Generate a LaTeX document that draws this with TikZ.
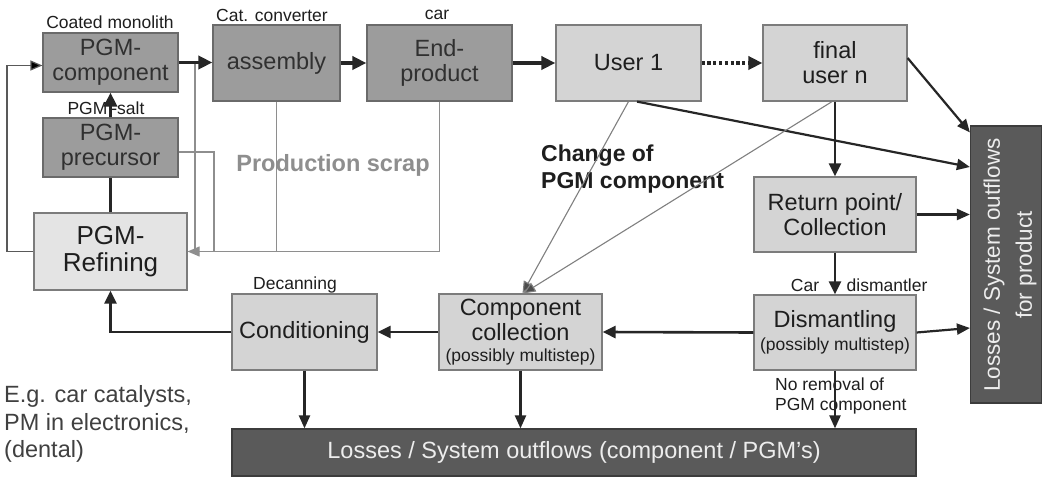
\documentclass[tikz,border=0pt]{standalone}
\usepackage{fontspec}
\setmainfont{Liberation Sans}
\usetikzlibrary{arrows.meta}
\definecolor{dkbox}{HTML}{9C9C9C}
\definecolor{dkline}{HTML}{6A6A6A}
\definecolor{ltbox}{HTML}{D4D4D4}
\definecolor{ltbox2}{HTML}{E4E4E4}
\definecolor{ltline}{HTML}{7C7C7C}
\definecolor{lossfill}{HTML}{5A5A5A}
\definecolor{lossline}{HTML}{3C3C3C}
\definecolor{scrapcol}{HTML}{8E8E8E}
\definecolor{txtdk}{HTML}{303030}
\definecolor{txtlt}{HTML}{1E1E1E}
\newcommand\mainfs{\fontsize{23.5}{25}\selectfont}
\newcommand\bigfs{\fontsize{26}{27}\selectfont}
\newcommand\smallfs{\fontsize{17.5}{20}\selectfont}
\tikzset{
  box/.style={draw, line width=1.2pt, inner sep=0pt, align=center, font=\mainfs},
  darkbox/.style={box, draw=dkline, fill=dkbox, text=txtdk},
  lightbox/.style={box, draw=ltline, fill=ltbox, text=txtlt},
  lossbox/.style={box, draw=lossline, fill=lossfill, text=white!93!black},
  smalllbl/.style={inner sep=0pt, font=\smallfs, text=txtlt},
  thk/.style={line width=3.6pt, draw=black!85, -{Triangle[length=14pt,width=13pt]}},
  med/.style={line width=2.6pt, draw=black!85, -{Triangle[length=13pt,width=12pt]}},
  thin/.style={line width=2.2pt, draw=black!85, -{Triangle[length=13pt,width=11pt]}},
  scrap/.style={line width=1.1pt, draw=scrapcol},
  chg/.style={line width=1.1pt, draw=scrapcol!90!black},
  loopline/.style={line width=1.2pt, draw=black!65, -{Triangle[length=12pt,width=10pt,fill=black]}},
}
\begin{document}
\begin{tikzpicture}[x=1pt,y=-1pt]
\useasboundingbox (0,0) rectangle (1042,478);
\fill[white] (0,0) rectangle (1042,478);

% boxes
\node[darkbox, minimum width=135pt, minimum height=59pt] (comp) at (110.5,62.5) {PGM-\\component};
\node[darkbox, minimum width=127pt, minimum height=76pt] (asm) at (276.5,63) {assembly};
\node[darkbox, minimum width=145pt, minimum height=76pt] (endp) at (439.5,63) {End-\\product};
\node[lightbox, minimum width=145pt, minimum height=76pt] (user1) at (628.5,63) {User 1};
\node[lightbox, minimum width=144pt, minimum height=76pt] (finaln) at (835,63) {final\\user n};
\node[darkbox, minimum width=135pt, minimum height=59pt] (prec) at (110.5,147.5) {PGM-\\precursor};
\node[lightbox, fill=ltbox2, font=\bigfs, minimum width=153pt, minimum height=77pt] (refin) at (110.5,251.5) {PGM-\\Refining};
\node[lightbox, minimum width=162pt, minimum height=75pt] (ret) at (835,214.5) {Return point/\\Collection};
\node[lightbox, minimum width=162pt, minimum height=75pt] (dism) at (835,332.5) {Dismantling\\[-2pt]{\smallfs (possibly multistep)}};
\node[lightbox, minimum width=163pt, minimum height=76pt] (ccoll) at (520.5,332) {Component\\collection\\[-4pt]{\smallfs (possibly multistep)}};
\node[lightbox, minimum width=145pt, minimum height=76pt] (cond) at (304.5,332) {Conditioning};
\node[lossbox, minimum width=684pt, minimum height=47pt] (lossb) at (574,452.5) {Losses / System outflows (component / PGM's)};
\node[lossbox, minimum width=71pt, minimum height=277pt] (lossr) at (1006,264.5) {};
\node[inner sep=0pt, rotate=90, align=center, font=\fontsize{22.5}{32}\selectfont, text=white!93!black] (lossrtxt) at (1010,265) {Losses / System outflows\\for product};

% small labels
\node[smalllbl] (lcoat) at (110,22) {Coated monolith};
\node[smalllbl] (lcat) at (272,15) {Cat. converter};
\node[smalllbl] (lcar) at (437,15) {car};
\node[smalllbl] (lsalt) at (106,108) {PGM\hspace{4pt}-salt};
\node[smalllbl] (ldec) at (295,285) {Decanning};
\node[smalllbl] (lcar2) at (805,285) {Car};
\node[smalllbl] (ldism) at (887,285) {dismantler};
\node[smalllbl, anchor=west, align=left, font=\fontsize{17.5}{19.5}\selectfont] (lnorem) at (775,396) {No removal of\\PGM component};
\node[inner sep=0pt, font=\bfseries\fontsize{23.5}{25}\selectfont, text=scrapcol] (lscrap) at (333,165) {Production scrap};
\node[inner sep=0pt, anchor=west, align=left, font=\bfseries\fontsize{23}{27}\selectfont, text=txtlt] (lchg) at (541,169) {Change of\\PGM component};
\node[inner sep=0pt, anchor=west, align=left, font=\fontsize{23.5}{27.5}\selectfont, text=black!75] (leg) at (4,424) {E.g. car catalysts,\\PM in electronics,\\(dental)};

% production scrap lines
\coordinate (s1top) at (195,63);
\coordinate (s1bot) at (195,251.5);
\coordinate (s2bot) at (214,251.5);
\draw[scrap] (s1top) -- (s1bot);
\draw[scrap] ([yshift=-4.5pt]prec.east) -| (s2bot);
\draw[scrap] (asm.south) -- (asm.south |- s1bot);
\draw[scrap, -{Triangle[length=12pt,width=10pt]}] (endp.south) |- (refin.east);

% left loop
\coordinate (lp) at (7,251.5);
\draw[loopline] (refin.west) -- (lp) |- ([yshift=-3pt]comp.west);

% main chain
\draw[thk] (comp.east) -- (asm.west |- comp.east);
\draw[thk] (asm) -- (endp);
\draw[thk] (endp) -- (user1);
\draw[thk, dash pattern=on 3.2pt off 2.6pt] (user1) -- (finaln);
\draw[line width=3.6pt, draw=black!85] (refin.north) -- (prec.south);
\draw[thk] (prec.north) -- (comp.south);

% return chain
\draw[med] (finaln.south) -- (ret.north);
\draw[med] (ret.south) -- (dism.north);
\draw[med] (dism.west) -- (ccoll.east);
\draw[med] (ccoll.west) -- (cond.east);
\draw[med] (cond.west) -| (refin.south);

% to bottom losses
\draw[thin] (cond.south) -- (cond.south |- lossb.north);
\draw[thin] (ccoll.south) -- (ccoll.south |- lossb.north);
\draw[thin] (dism.south) -- (dism.south |- lossb.north);

% to right losses
\draw[thin] (ret.east) -- (ret.east -| lossr.west);
\draw[thin] (dism.east) -- ([yshift=4.5pt]dism.east -| lossr.west);
\draw[thin] ([yshift=5pt]finaln.east) -- ([yshift=-7pt]lossr.north west);
\draw[thin] ([xshift=8.5pt]user1.south) -- ([yshift=97.5pt]lossr.west);

% change of PGM component
\draw[chg, -{Triangle[length=12pt,width=10pt,fill=black!70]}] (user1.south) -- ([xshift=2pt]ccoll.north);
\draw[chg, -{Triangle[length=12pt,width=10pt,fill=black!70]}] ([xshift=-3pt]finaln.south) -- ([xshift=3pt]ccoll.north);
\end{tikzpicture}
\end{document}
